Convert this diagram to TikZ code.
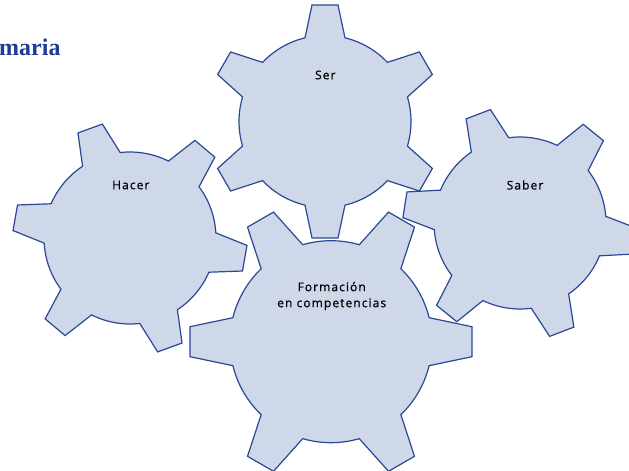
\documentclass[tikz,border=0pt]{standalone}
\usepackage{fontspec}
\setmainfont{Liberation Serif}
\newfontfamily\gearfont[LetterSpace=9,FakeBold=0.6]{Open Sans}
\definecolor{gearfill}{HTML}{CFD8E8}
\definecolor{gearline}{HTML}{2A4896}
\definecolor{titleblue}{HTML}{1F3C95}
\newcommand\drawgear[7]{% cx cy r R wt wb rot
  \pgfmathsetmacro\gb{asin(#6/#3)}%
  \pgfmathsetmacro\gt{atan(#5/#4)}%
  \pgfmathsetmacro\gRt{veclen(#4,#5)}%
  \begin{scope}[shift={(#1,#2)}]
    \draw[gearshape] ({#7-\gb}:#3) \foreach \k in {0,...,5}{
      -- ({#7+60*\k-\gt}:\gRt) -- ({#7+60*\k+\gt}:\gRt) -- ({#7+60*\k+\gb}:#3)
      arc[start angle={#7+60*\k+\gb}, end angle={#7+60*\k+60-\gb}, radius=#3]
    } -- cycle;
  \end{scope}}
\tikzset{
  gearshape/.style={fill=gearfill, draw=gearline, line width=1.2pt, line join=miter},
  geartext/.style={font=\gearfont\fontsize{12}{16}\selectfont, text=black, align=center, inner sep=0pt},
}
\begin{document}
\begin{tikzpicture}[x=1pt,y=1pt]
\useasboundingbox (0,0) rectangle (629,471);
\fill[white] (0,0) rectangle (629,471);
\drawgear{130}{233}{86}{116.5}{13}{20}{-10}
\drawgear{325}{349.5}{86}{116.5}{13}{20}{90}
\drawgear{520}{248}{86}{116.5}{13}{20}{-9}
\drawgear{331}{129.3}{101}{141}{15}{24}{0}
\node[anchor=base west, inner sep=0pt, text=titleblue, font=\bfseries\fontsize{24}{28}\selectfont] (title) at (-1,415) {maria};
\node[geartext] (ser) at (325.3,396) {Ser};
\node[geartext] (hacer) at (130.8,286) {Hacer};
\node[geartext] (saber) at (525,286) {Saber};
\node[geartext] (formacion) at (331.7,175) {Formación\\en competencias};
\end{tikzpicture}
\end{document}
